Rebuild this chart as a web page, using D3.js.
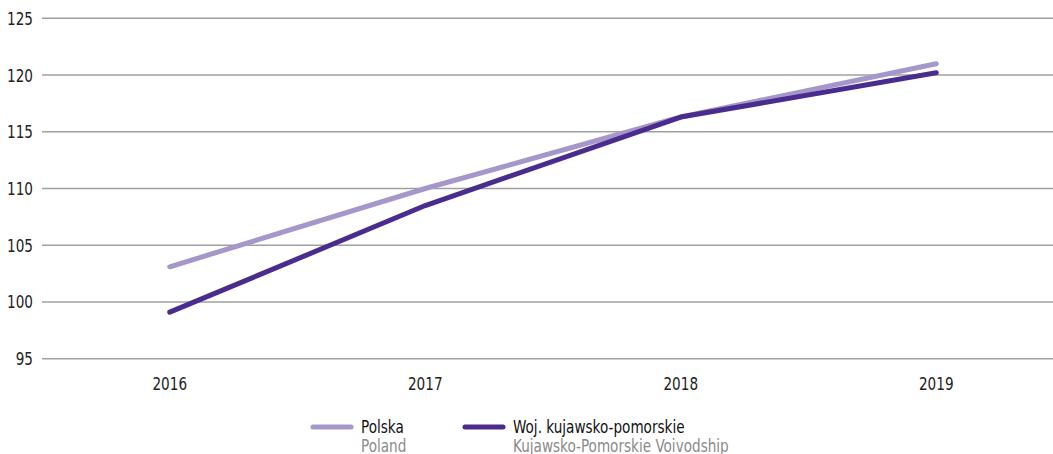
<!DOCTYPE html>
<html><head><meta charset="utf-8">
<script src="https://cdn.jsdelivr.net/npm/d3@7"></script>
<style>body{margin:0;background:#fff}svg{display:block}text{font-family:"DejaVu Sans Condensed","Liberation Sans Narrow",sans-serif}</style>
</head><body><svg id="c" width="1053" height="454"></svg>
<script>
const years = ["2016","2017","2018","2019"];
const polska = [103.1, 110.0, 116.3, 121.0];
const kujawsko = [99.1, 108.5, 116.3, 120.2];
const yTicks = [95,100,105,110,115,120,125];
const seriesNames = ["Polska","Woj. kujawsko-pomorskie"];
const seriesSub = ["Poland","Kujawsko-Pomorskie Voivodship"];
const colors = ["#a597ca","#4a2c8e"];

const SX = 0.84;
const svg = d3.select("#c");
const x = d3.scaleBand().domain(years).range([42,1064]);
const y = d3.scaleLinear().domain([95,125]).range([358.7,18.3]);

function txt(sel, tx, ty){
  return sel.attr("transform",(d,i)=>`translate(${tx(d,i)},${ty(d,i)}) scale(${SX},1)`);
}

const grid = svg.append("g");
grid.selectAll("line").data(yTicks).join("line")
  .attr("x1",42).attr("x2",1053).attr("y1",d=>y(d)).attr("y2",d=>y(d))
  .attr("stroke","#a0a0a0").attr("stroke-width",1.5);
txt(grid.selectAll("text").data(yTicks).join("text"), ()=>33, d=>y(d)+6.5)
  .attr("text-anchor","end").attr("font-size",18).attr("fill","#222").text(d=>d);

txt(svg.append("g").selectAll("text").data(years).join("text"),
    d=>x(d)+x.bandwidth()/2, ()=>390)
  .attr("text-anchor","middle").attr("font-size",18).attr("fill","#222").text(d=>d);

const line = d3.line().x((d,i)=>x(years[i])+x.bandwidth()/2).y(d=>y(d));
[polska,kujawsko].forEach((s,i)=>{
  svg.append("path").attr("d",line(s)).attr("fill","none")
    .attr("stroke",colors[i]).attr("stroke-width",5)
    .attr("stroke-linecap","round").attr("stroke-linejoin","round");
});

const legX = [313,465];
seriesNames.forEach((n,i)=>{
  const g = svg.append("g").attr("transform",`translate(${legX[i]},0)`);
  g.append("line").attr("x1",0).attr("x2",38).attr("y1",427).attr("y2",427)
    .attr("stroke",colors[i]).attr("stroke-width",5).attr("stroke-linecap","round");
  g.append("text").attr("transform",`translate(48,433) scale(${SX},1)`)
    .attr("font-size",18).attr("fill","#111").text(n);
  g.append("text").attr("transform",`translate(48,452) scale(${SX},1)`)
    .attr("font-size",18).attr("fill","#8a8a8a").text(seriesSub[i]);
});
</script></body></html>
